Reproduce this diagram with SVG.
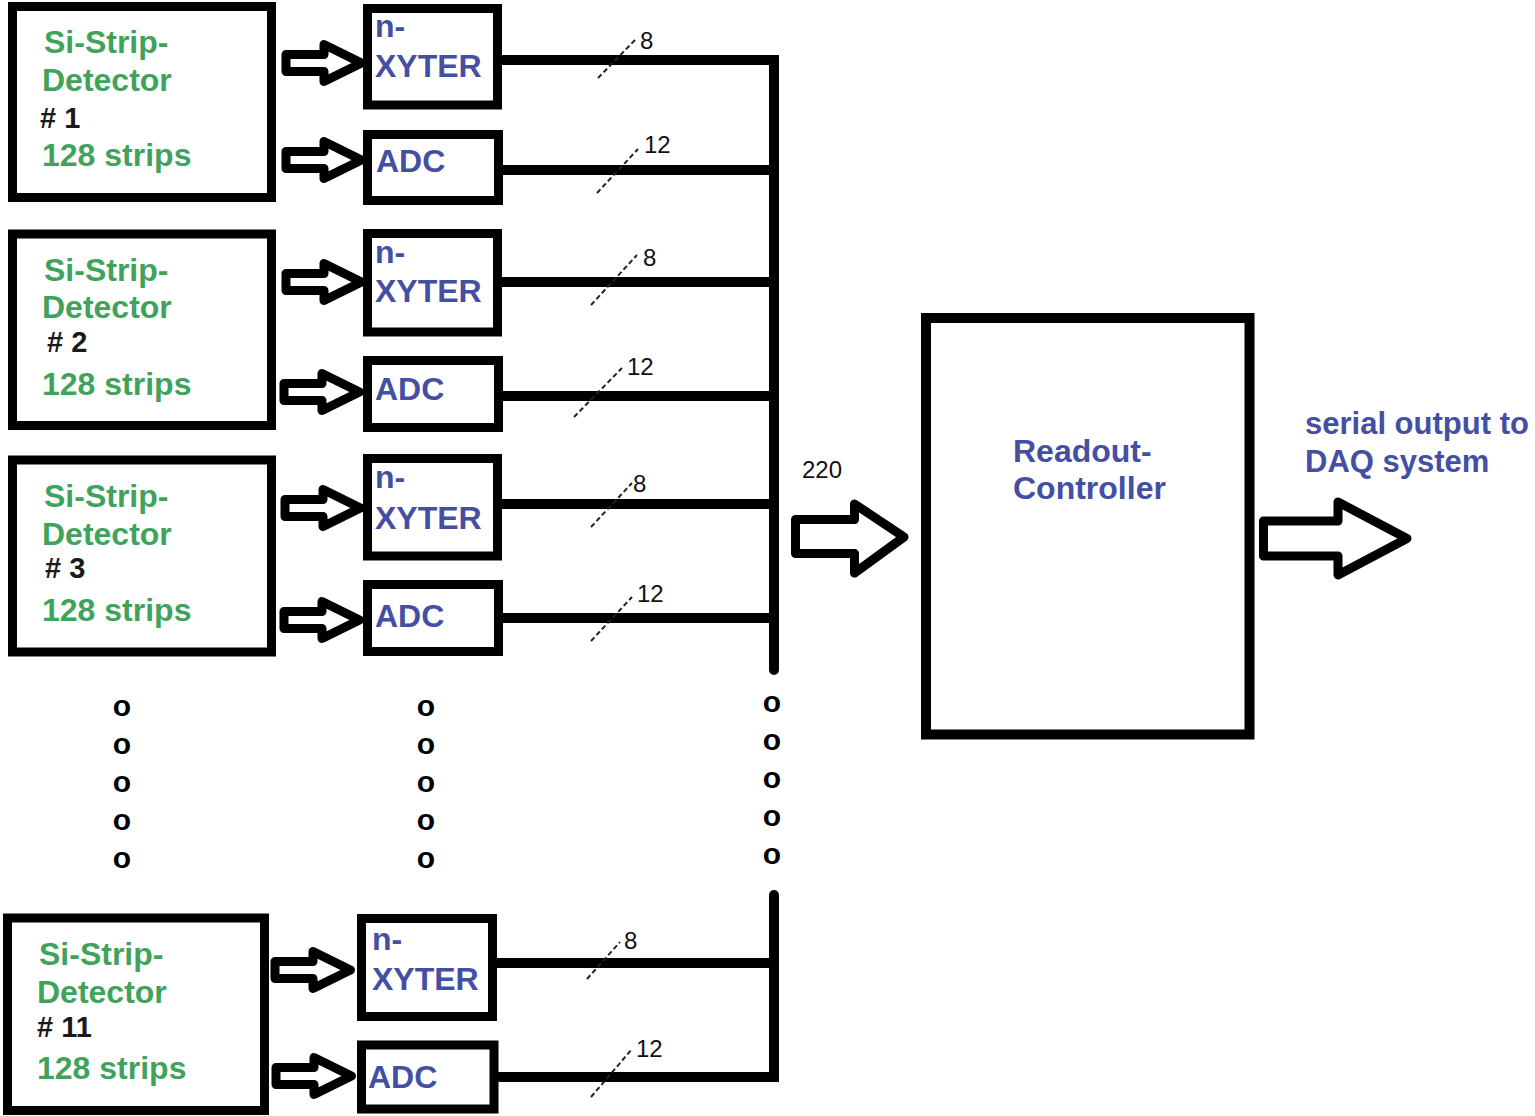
<svg xmlns="http://www.w3.org/2000/svg" width="1535" height="1116" viewBox="0 0 1535 1116">
<style>
.box{fill:#fff;stroke:#000;stroke-width:9}
.g{font-family:"Liberation Sans",Arial,sans-serif;font-weight:bold;font-size:32px;fill:#3fa35c}
.k{font-family:"Liberation Sans",Arial,sans-serif;font-weight:bold;font-size:29px;fill:#1a1a1a}
.b{font-family:"Liberation Sans",Arial,sans-serif;font-weight:bold;font-size:32px;fill:#444fa4}
.b2{font-family:"Liberation Sans",Arial,sans-serif;font-weight:bold;font-size:31px;fill:#444fa4}
.n{font-family:"Liberation Sans",Arial,sans-serif;font-size:24px;fill:#111}
.dot{font-family:"Liberation Sans",Arial,sans-serif;font-weight:bold;font-size:30px;fill:#000;text-anchor:middle}
.bus{fill:none;stroke:#000;stroke-width:10;stroke-linecap:round;stroke-linejoin:miter}
.tick{stroke:#222;stroke-width:2;stroke-dasharray:5 3;fill:none}
.arr{fill:#fff;stroke:#000;stroke-width:9;stroke-linejoin:round}
</style>
<defs>
<path id="arr" class="arr" d="M-80,-8.5 H-42 V-18.5 L-4.5,0 L-42,18.5 V8.5 H-80 Z"/>
</defs>
<rect width="1535" height="1116" fill="#fff"/>

<g id="connectors">
<path class="bus" d="M502,60 H774 V670"/>
<path class="bus" d="M503,170 H774"/>
<path class="bus" d="M502,282 H774"/>
<path class="bus" d="M503,396 H774"/>
<path class="bus" d="M502,504 H774"/>
<path class="bus" d="M503,618 H774"/>
<path class="bus" d="M774,895 V1077 H500"/>
<path class="bus" d="M497,963 H774"/>
<line class="tick" x1="598" y1="78" x2="636" y2="39"/>
<line class="tick" x1="597" y1="193" x2="638" y2="149"/>
<line class="tick" x1="591" y1="305" x2="637" y2="255"/>
<line class="tick" x1="574" y1="417" x2="622" y2="368"/>
<line class="tick" x1="591" y1="527" x2="632" y2="483"/>
<line class="tick" x1="591" y1="641" x2="632" y2="597"/>
<line class="tick" x1="587" y1="979" x2="620" y2="942"/>
<line class="tick" x1="591" y1="1097" x2="632" y2="1049"/>
<text class="n" x="640" y="49">8</text>
<text class="n" x="644" y="153">12</text>
<text class="n" x="643" y="266">8</text>
<text class="n" x="627" y="375">12</text>
<text class="n" x="633" y="492">8</text>
<text class="n" x="637" y="602">12</text>
<text class="n" x="624" y="949">8</text>
<text class="n" x="636" y="1057">12</text>
<text class="n" x="802" y="478">220</text>
<use href="#arr" transform="translate(366,63)"/>
<use href="#arr" transform="translate(366,160)"/>
<use href="#arr" transform="translate(366,282)"/>
<use href="#arr" transform="translate(364,392)"/>
<use href="#arr" transform="translate(365,508)"/>
<use href="#arr" transform="translate(364,620)"/>
<use href="#arr" transform="translate(355,970)"/>
<use href="#arr" transform="translate(356,1076)"/>
<path class="arr" d="M795.5,519.5 H854.5 V504 L904,537 L854.5,573 V553.5 H795.5 Z"/>
<path class="arr" d="M1263.5,521 H1338 V502 L1407,538.5 L1338,575 V556 H1263.5 Z"/>
</g>

<g id="det1">
<rect class="box" x="12.5" y="6.5" width="259" height="191"/>
<text class="g" x="44" y="53">Si-Strip-</text>
<text class="g" x="42" y="91">Detector</text>
<text class="k" x="40" y="128"># 1</text>
<text class="g" x="42" y="166">128 strips</text>
</g>
<g id="nx1">
<rect class="box" x="367.5" y="8.5" width="130" height="96.5"/>
<text class="b" x="375" y="37">n-</text>
<text class="b" x="375" y="77">XYTER</text>
</g>
<g id="adc1">
<rect class="box" x="367.5" y="134.5" width="131" height="66"/>
<text class="b" x="376" y="172">ADC</text>
</g>

<g id="det2">
<rect class="box" x="12.5" y="234" width="259" height="191.5"/>
<text class="g" x="44" y="281">Si-Strip-</text>
<text class="g" x="42" y="318">Detector</text>
<text class="k" x="47" y="352"># 2</text>
<text class="g" x="42" y="395">128 strips</text>
</g>
<g id="nx2">
<rect class="box" x="367.5" y="233.5" width="130" height="98.5"/>
<text class="b" x="375" y="263">n-</text>
<text class="b" x="375" y="302">XYTER</text>
</g>
<g id="adc2">
<rect class="box" x="367.5" y="360.5" width="131" height="67"/>
<text class="b" x="375" y="400">ADC</text>
</g>

<g id="det3">
<rect class="box" x="12.5" y="460" width="259" height="192"/>
<text class="g" x="44" y="507">Si-Strip-</text>
<text class="g" x="42" y="545">Detector</text>
<text class="k" x="45" y="578"># 3</text>
<text class="g" x="42" y="621">128 strips</text>
</g>
<g id="nx3">
<rect class="box" x="367.5" y="458.5" width="130" height="97.5"/>
<text class="b" x="375" y="488">n-</text>
<text class="b" x="375" y="529">XYTER</text>
</g>
<g id="adc3">
<rect class="box" x="367.5" y="584.5" width="131" height="67"/>
<text class="b" x="375" y="627">ADC</text>
</g>

<g id="det11">
<rect class="box" x="7.5" y="918" width="257" height="192.5"/>
<text class="g" x="39" y="965">Si-Strip-</text>
<text class="g" x="37" y="1003">Detector</text>
<text class="k" x="37" y="1037"># 11</text>
<text class="g" x="37" y="1079">128 strips</text>
</g>
<g id="nx11">
<rect class="box" x="361.5" y="918.5" width="131" height="98"/>
<text class="b" x="372" y="950">n-</text>
<text class="b" x="372" y="990">XYTER</text>
</g>
<g id="adc11">
<rect class="box" x="361.5" y="1045" width="132.5" height="64"/>
<text class="b" x="368" y="1088">ADC</text>
</g>

<g id="readout">
<rect class="box" style="stroke-width:10" x="926" y="318" width="323.5" height="416.5"/>
<text class="b" x="1013" y="462">Readout-</text>
<text class="b" x="1013" y="499">Controller</text>
</g>

<g id="daq">
<text class="b2" x="1305" y="434">serial output to</text>
<text class="b2" x="1305" y="472">DAQ system</text>
</g>

<g id="dots">
<text class="dot" x="122" y="716">o</text>
<text class="dot" x="122" y="754">o</text>
<text class="dot" x="122" y="792">o</text>
<text class="dot" x="122" y="830">o</text>
<text class="dot" x="122" y="868">o</text>
<text class="dot" x="426" y="716">o</text>
<text class="dot" x="426" y="754">o</text>
<text class="dot" x="426" y="792">o</text>
<text class="dot" x="426" y="830">o</text>
<text class="dot" x="426" y="868">o</text>
<text class="dot" x="772" y="712">o</text>
<text class="dot" x="772" y="750">o</text>
<text class="dot" x="772" y="788">o</text>
<text class="dot" x="772" y="826">o</text>
<text class="dot" x="772" y="864">o</text>
</g>
</svg>
